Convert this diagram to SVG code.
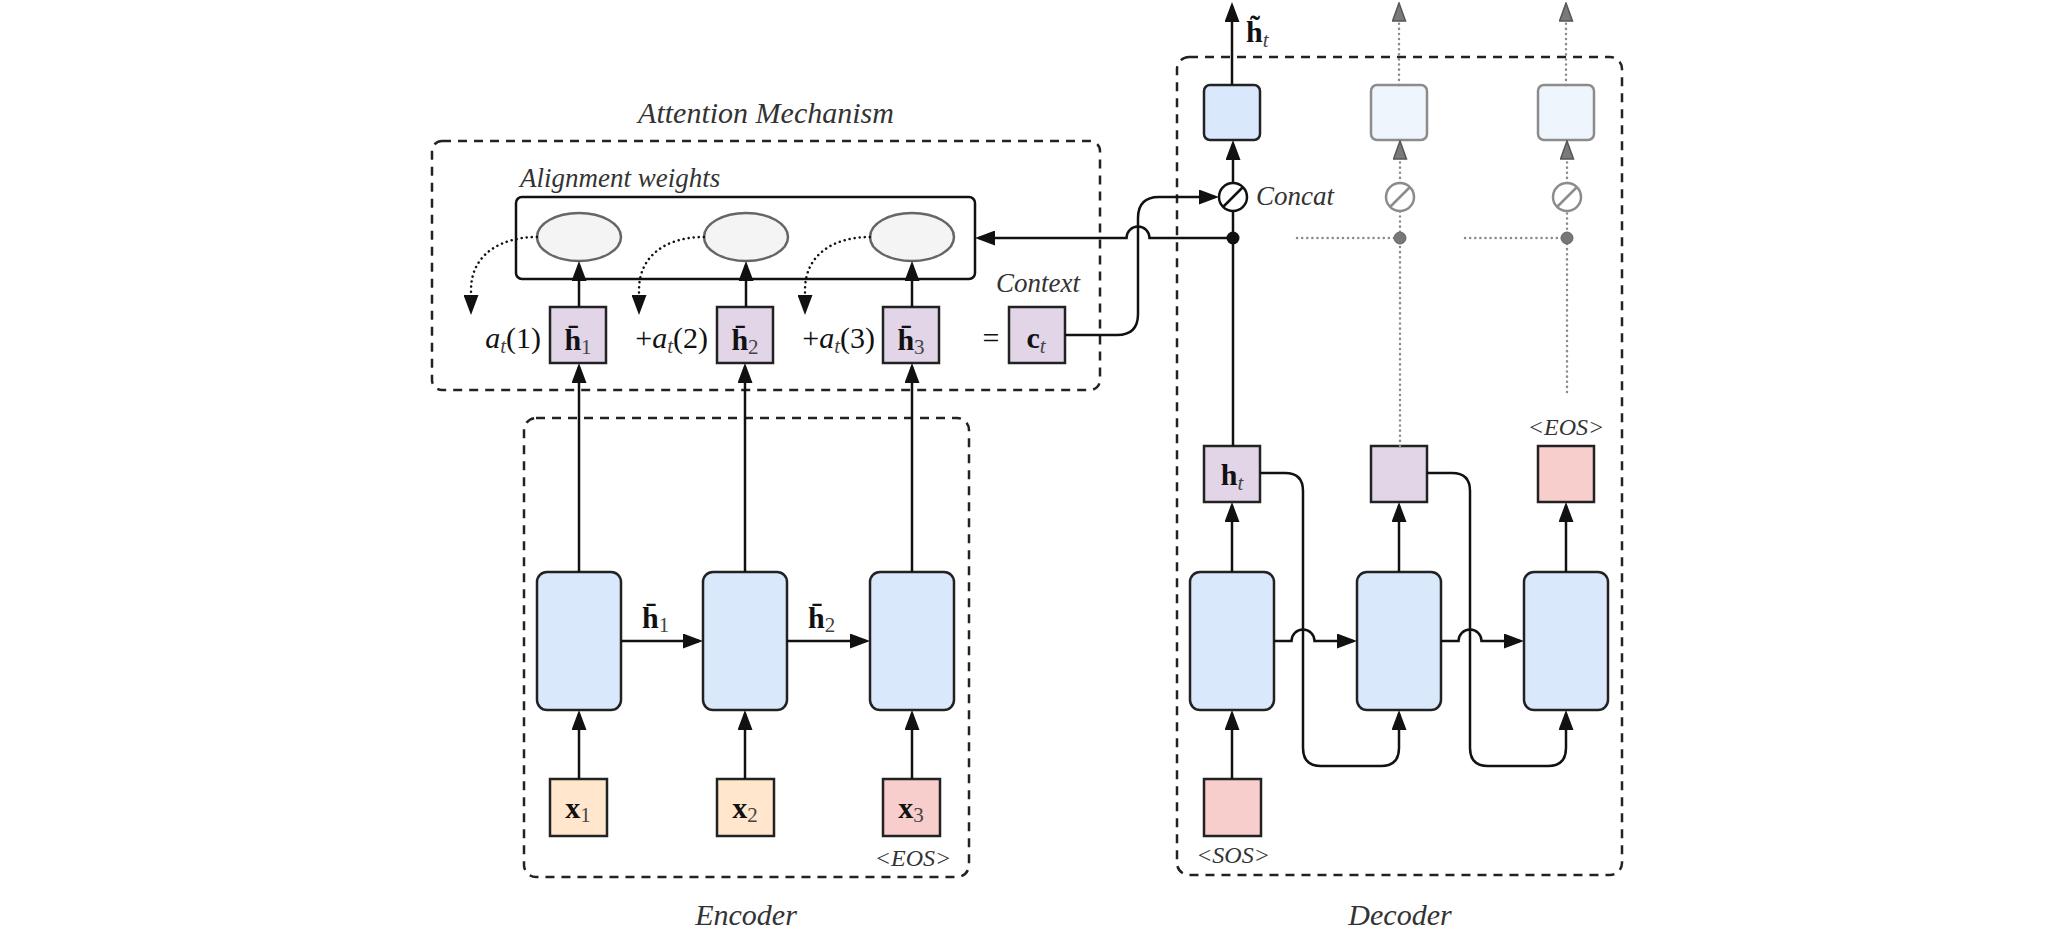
<svg xmlns="http://www.w3.org/2000/svg" width="2054" height="932" viewBox="0 0 2054 932">
<defs>
<marker id="ah" viewBox="0 0 20 15" refX="16" refY="7.5" markerWidth="20" markerHeight="15" markerUnits="userSpaceOnUse" orient="auto"><path d="M0,0 L20,7.5 L0,15 z" fill="#111"/></marker>
<marker id="ahg" viewBox="0 0 20 15" refX="16" refY="7.5" markerWidth="20" markerHeight="15" markerUnits="userSpaceOnUse" orient="auto"><path d="M1,1 L19,7.5 L1,14 z" fill="#7a7a7a" stroke="#555" stroke-width="1.5"/></marker>
</defs>
<style>
.dash{fill:none;stroke:#222;stroke-width:2.5;stroke-dasharray:9 7}
.ln{fill:none;stroke:#111;stroke-width:2.5}
.arr{marker-end:url(#ah)}
.garr{marker-end:url(#ahg)}
.dot{fill:none;stroke:#111;stroke-width:2.5;stroke-dasharray:0.1 5;stroke-linecap:round}
.gdot{fill:none;stroke:#8c8c8c;stroke-width:2.5;stroke-dasharray:0.1 5;stroke-linecap:round}
.cell{fill:#dae8fc;stroke:#222;stroke-width:2.5}
.fcell{fill:#eef5fd;stroke:#8c8c8c;stroke-width:2.5}
.hid{fill:#e1d5e7;stroke:#222;stroke-width:2.5}
.inp{fill:#ffe6cc;stroke:#222;stroke-width:2.5}
.eos{fill:#f8cecc;stroke:#222;stroke-width:2.5}
.ell{fill:#f4f4f4;stroke:#666;stroke-width:2.5}
.box{fill:#fff;stroke:#111;stroke-width:2.5}
.lbl{font-family:"Liberation Serif",serif;font-style:italic;fill:#333}
.m{font-family:"Liberation Serif",serif;font-size:30px;fill:#111}
.b{font-weight:bold}
.i{font-style:italic}
.sub{font-size:21px;fill:#444}
</style>
<rect width="2054" height="932" fill="#fff"/>

<g id="encoder">
<rect class="dash" x="524" y="418" width="445" height="459" rx="12"/>
<rect class="cell" x="537" y="572" width="84" height="138" rx="10"/>
<rect class="cell" x="703" y="572" width="84" height="138" rx="10"/>
<rect class="cell" x="870" y="572" width="84" height="138" rx="10"/>
<text class="lbl" x="746" y="925" font-size="30" text-anchor="middle">Encoder</text>
</g>
<g id="x1"><rect class="inp" x="550" y="779" width="57" height="57"/><text class="m" x="578" y="818" text-anchor="middle"><tspan class="b">x</tspan><tspan class="sub" dy="4">1</tspan></text></g>
<g id="x2"><rect class="inp" x="717" y="779" width="57" height="57"/><text class="m" x="745" y="818" text-anchor="middle"><tspan class="b">x</tspan><tspan class="sub" dy="4">2</tspan></text></g>
<g id="x3"><rect class="eos" x="883" y="779" width="57" height="57"/><text class="m" x="911" y="818" text-anchor="middle"><tspan class="b">x</tspan><tspan class="sub" dy="4">3</tspan></text>
<text class="lbl" x="913" y="866" font-size="24" text-anchor="middle">&lt;EOS&gt;</text></g>

<g id="attention">
<rect class="dash" x="432" y="141" width="668" height="249" rx="10"/>
<text class="lbl" x="766" y="123" font-size="30" text-anchor="middle">Attention Mechanism</text>
<text class="lbl" x="520" y="187" font-size="27">Alignment weights</text>
<rect class="box" x="516" y="197" width="459" height="82" rx="6"/>
<ellipse class="ell" cx="579" cy="237" rx="42" ry="24"/>
<ellipse class="ell" cx="746" cy="237" rx="42" ry="24"/>
<ellipse class="ell" cx="912" cy="237" rx="42" ry="24"/>
<text class="m" x="541" y="348" text-anchor="end"><tspan class="i">a</tspan><tspan class="i sub" dy="5">t</tspan><tspan dy="-5">(1)</tspan></text>
<text class="m" x="708" y="348" text-anchor="end">+<tspan class="i">a</tspan><tspan class="i sub" dy="5">t</tspan><tspan dy="-5">(2)</tspan></text>
<text class="m" x="875" y="348" text-anchor="end">+<tspan class="i">a</tspan><tspan class="i sub" dy="5">t</tspan><tspan dy="-5">(3)</tspan></text>
<text class="m" x="991" y="348" text-anchor="middle">=</text>
<text class="lbl" x="996" y="292" font-size="27">Context</text>
</g>
<g id="hbar1"><rect class="hid" x="550" y="307" width="56" height="56"/><text class="m" x="578" y="350" text-anchor="middle"><tspan class="b">h&#x304;</tspan><tspan class="sub" dy="4">1</tspan></text></g>
<g id="hbar2"><rect class="hid" x="717" y="307" width="56" height="56"/><text class="m" x="745" y="350" text-anchor="middle"><tspan class="b">h&#x304;</tspan><tspan class="sub" dy="4">2</tspan></text></g>
<g id="hbar3"><rect class="hid" x="883" y="307" width="56" height="56"/><text class="m" x="911" y="350" text-anchor="middle"><tspan class="b">h&#x304;</tspan><tspan class="sub" dy="4">3</tspan></text></g>
<g id="ct"><rect class="hid" x="1009" y="307" width="56" height="56"/><text class="m" x="1036" y="348" text-anchor="middle"><tspan class="b">c</tspan><tspan class="i sub" dy="5">t</tspan></text></g>

<g id="decoder">
<rect class="dash" x="1177" y="57" width="445" height="818" rx="12"/>
<rect class="cell" x="1190" y="572" width="84" height="138" rx="10"/>
<rect class="cell" x="1357" y="572" width="84" height="138" rx="10"/>
<rect class="cell" x="1524" y="572" width="84" height="138" rx="10"/>
<text class="lbl" x="1400" y="925" font-size="30" text-anchor="middle">Decoder</text>
</g>
<g id="attn-out"><rect class="cell" x="1204" y="85" width="56" height="55" rx="6"/></g>
<g id="attn-out2"><rect class="fcell" x="1371" y="85" width="56" height="55" rx="6"/></g>
<g id="attn-out3"><rect class="fcell" x="1538" y="85" width="56" height="55" rx="6"/></g>
<g id="concat1"><circle cx="1233" cy="197" r="14" fill="#fff" stroke="#111" stroke-width="2.5"/><line x1="1223" y1="207" x2="1243" y2="187" stroke="#111" stroke-width="2.5"/>
<text class="lbl" x="1256" y="205" font-size="27">Concat</text></g>
<g id="concat2"><circle cx="1400" cy="197" r="14" fill="#fff" stroke="#8c8c8c" stroke-width="2.5"/><line x1="1390" y1="207" x2="1410" y2="187" stroke="#8c8c8c" stroke-width="2.5"/></g>
<g id="concat3"><circle cx="1567" cy="197" r="14" fill="#fff" stroke="#8c8c8c" stroke-width="2.5"/><line x1="1557" y1="207" x2="1577" y2="187" stroke="#8c8c8c" stroke-width="2.5"/></g>
<g id="ht"><rect class="hid" x="1204" y="446" width="56" height="56"/><text class="m" x="1232" y="485" text-anchor="middle"><tspan class="b">h</tspan><tspan class="i sub" dy="5">t</tspan></text></g>
<g id="h2d"><rect class="hid" x="1371" y="446" width="56" height="56"/></g>
<g id="eosd"><rect class="eos" x="1538" y="446" width="56" height="56"/><text class="lbl" x="1566" y="435" font-size="24" text-anchor="middle">&lt;EOS&gt;</text></g>
<g id="sos"><rect class="eos" x="1204" y="779" width="57" height="57"/><text class="lbl" x="1233" y="863" font-size="24" text-anchor="middle">&lt;SOS&gt;</text></g>
<g id="htilde"><text class="m" x="1246" y="42"><tspan class="b">h&#x303;</tspan><tspan class="i sub" dy="5">t</tspan></text></g>

<g id="connectors">
<path class="ln arr" d="M579,779 V714"/>
<path class="ln arr" d="M745,779 V714"/>
<path class="ln arr" d="M912,779 V714"/>
<path class="ln arr" d="M621,641 H699"/>
<path class="ln arr" d="M787,641 H866"/>
<text class="m" x="642" y="628"><tspan class="b">h&#x304;</tspan><tspan class="sub" dy="4">1</tspan></text>
<text class="m" x="808" y="628"><tspan class="b">h&#x304;</tspan><tspan class="sub" dy="4">2</tspan></text>
<path class="ln arr" d="M579,572 V367"/>
<path class="ln arr" d="M745,572 V367"/>
<path class="ln arr" d="M912,572 V367"/>
<path class="ln arr" d="M579,307 V265"/>
<path class="ln arr" d="M746,307 V265"/>
<path class="ln arr" d="M912,307 V265"/>
<path class="dot arr" d="M537,237 C500,237 471,255 471,290 L471,311"/>
<path class="dot arr" d="M704,237 C667,237 639,255 639,290 L639,311"/>
<path class="dot arr" d="M870,237 C833,237 805,255 805,290 L805,311"/>
<path class="ln arr" d="M1065,335 H1117 Q1138,335 1138,314 V218 Q1138,197 1159,197 H1215"/>
<path class="ln arr" d="M1233,238 H1149.5 A11.5,11.5 0 0 0 1126.5,238 H979"/>
<circle cx="1233" cy="238" r="6.5" fill="#111"/>
<path class="ln" d="M1233,446 V211"/>
<path class="ln arr" d="M1233,183 V144"/>
<path class="ln arr" d="M1232,85 V6"/>
<path class="gdot" d="M1297,238 H1400"/>
<path class="gdot" d="M1465,238 H1567"/>
<path class="gdot" d="M1400,446 V211"/>
<path class="gdot" d="M1567,392 V211"/>
<circle cx="1400" cy="238" r="6" fill="#777" stroke="#666" stroke-width="1"/>
<circle cx="1567" cy="238" r="6" fill="#777" stroke="#666" stroke-width="1"/>
<path class="gdot garr" d="M1400,183 V144"/>
<path class="gdot garr" d="M1567,183 V144"/>
<path class="gdot garr" d="M1399,85 V6"/>
<path class="gdot garr" d="M1566,85 V6"/>
<path class="ln arr" d="M1232,572 V506"/>
<path class="ln arr" d="M1399,572 V506"/>
<path class="ln arr" d="M1566,572 V506"/>
<path class="ln arr" d="M1232,779 V714"/>
<path class="ln arr" d="M1274,641 H1291.5 A11.5,11.5 0 0 1 1314.5,641 H1353"/>
<path class="ln arr" d="M1441,641 H1458.5 A11.5,11.5 0 0 1 1481.5,641 H1520"/>
<path class="ln arr" d="M1260,473 H1285 Q1303,473 1303,491 V748 Q1303,766 1321,766 H1381 Q1399,766 1399,748 V714"/>
<path class="ln arr" d="M1427,473 H1452 Q1470,473 1470,491 V748 Q1470,766 1488,766 H1548 Q1566,766 1566,748 V714"/>
</g>
</svg>
